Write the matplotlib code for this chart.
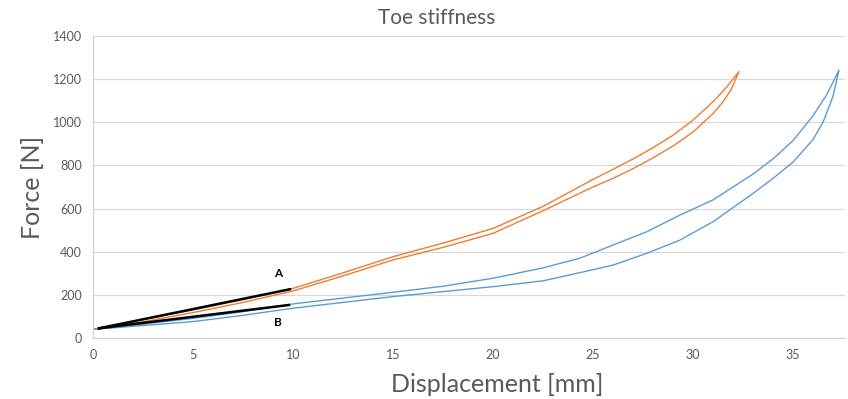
import matplotlib
matplotlib.use("Agg")
import matplotlib.pyplot as plt

# Orange loop (up branch then return branch)
orange_x = [0, 2.5, 5, 7.5, 10, 12.5, 15, 17.5, 20, 22.5, 25, 26, 27, 28, 29, 30, 31, 31.7, 32.3,
            31.9, 31.5, 31, 30, 29, 28, 27, 26, 25, 22.5, 20, 17.5, 15, 12.5, 10, 7.5, 5, 2.5, 0]
orange_f = [40, 85, 130, 178, 230, 302, 377, 440, 508, 610, 735, 782, 830, 882, 940, 1010, 1095, 1165, 1235,
            1150, 1095, 1040, 955, 890, 835, 785, 740, 700, 590, 485, 420, 362, 288, 218, 165, 118, 75, 40]

# Blue loop
blue_x = [0, 2.5, 5, 7.5, 10, 12.5, 15, 17.5, 20, 22.5, 24.35, 26, 27.7, 29.35, 31, 32, 33, 34, 35, 36, 36.7, 37.3,
          37, 36.5, 36, 35, 34, 33, 31, 29.35, 27.7, 26, 24.35, 22.5, 20, 17.5, 15, 12.5, 10, 7.5, 5, 2.5, 0]
blue_f = [40, 65, 91, 122, 158, 185, 212, 240, 277, 325, 370, 431, 493, 570, 640, 700, 760, 830, 915, 1030, 1130, 1242,
          1120, 1000, 920, 815, 740, 670, 539, 454, 393, 338, 303, 265, 238, 215, 192, 165, 138, 105, 76, 58, 40]

# Stiffness lines
line_a_x = [0.3, 9.85]
line_a_f = [45, 226]
line_b_x = [0.3, 9.8]
line_b_f = [45, 153]

labels = ["A", "B"]
label_x = [9.25, 9.25]
label_f = [297, 70]

xticks = [0, 5, 10, 15, 20, 25, 30, 35]
yticks = [0, 200, 400, 600, 800, 1000, 1200, 1400]

plt.rcParams['font.family'] = ['Lato', 'DejaVu Sans']
txt = '#595959'
grid = '#D9D9D9'

fig = plt.figure(figsize=(8.48, 3.99), dpi=100)
ax = fig.add_axes([93/848, 1-338/399, (845-93)/848, (338-36)/399])

ax.plot(orange_x, orange_f, color='#ED7D31', lw=1.0)
ax.plot(blue_x, blue_f, color='#5B9BD5', lw=1.0)
ax.plot(line_a_x, line_a_f, color='black', lw=1.8)
ax.plot(line_b_x, line_b_f, color='black', lw=1.8)
for s, x, y in zip(labels, label_x, label_f):
    ax.text(x, y, s, fontsize=8.5, fontweight='bold', color='black', ha='center', va='center')

ax.set_xlim(0, 37.6)
ax.set_ylim(0, 1400)
ax.set_xticks(xticks)
ax.set_yticks(yticks)
ax.grid(axis='y', color=grid, lw=0.9)
ax.set_axisbelow(True)
for sp in ['top', 'right']:
    ax.spines[sp].set_visible(False)
for sp in ['left', 'bottom']:
    ax.spines[sp].set_color('#D0D0D0')
    ax.spines[sp].set_linewidth(0.9)
ax.tick_params(length=0, labelsize=9, colors=txt, pad=8)

fig.text(437/848, 1-18/399, 'Toe stiffness', fontsize=15, color=txt, ha='center', va='center')
ax.set_xlabel('Displacement [mm]', fontsize=18, color=txt)
ax.xaxis.set_label_coords((497-93)/752, (338-384)/302)
ax.xaxis.label.set_va('center')
ax.set_ylabel('Force [N]', fontsize=18, color=txt)
ax.yaxis.set_label_coords((32-93)/752, 0.498)
ax.yaxis.label.set_va('center')

fig.savefig('out.png', dpi=100)
